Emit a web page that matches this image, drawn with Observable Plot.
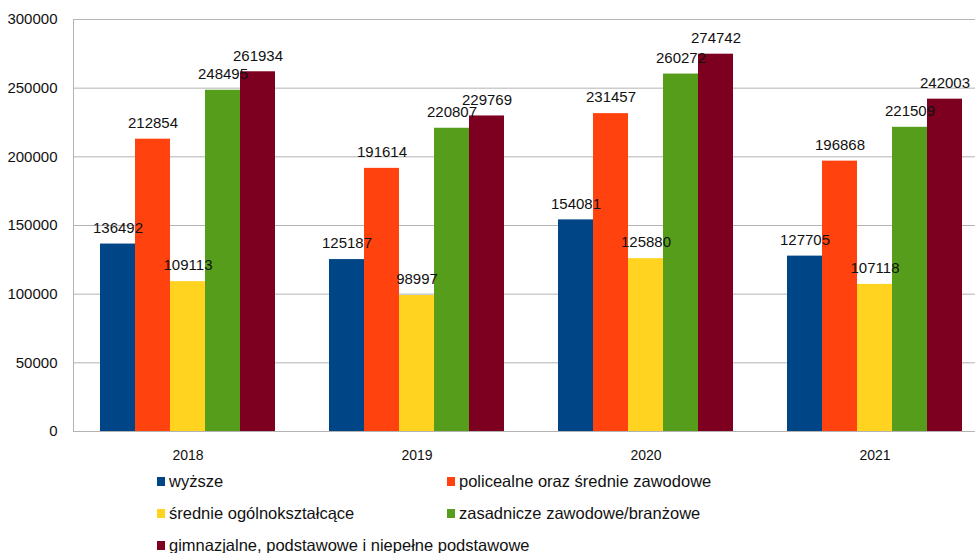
<!DOCTYPE html>
<html><head><meta charset="utf-8">
<script src="https://cdn.jsdelivr.net/npm/d3@7"></script>
<script src="https://cdn.jsdelivr.net/npm/@observablehq/plot@0.6"></script>
<style>
body{margin:0;background:#fff;font-family:"Liberation Sans",sans-serif;overflow:hidden;width:975px;}
#chart{width:975px;overflow:hidden;}
#legend{display:grid;grid-template-columns:290px auto;margin-left:157px;width:760px;}
.item{height:32px;display:flex;align-items:center;font-size:16.5px;color:#111;white-space:nowrap;line-height:1;}
.sw{width:8px;height:9px;margin-right:4px;flex:none;}
</style></head><body><div id="chart"></div><div id="legend"></div>
<script>
const years = ["2018", "2019", "2020", "2021"];
const series = ["wyższe", "policealne oraz średnie zawodowe", "średnie ogólnokształcące", "zasadnicze zawodowe/branżowe", "gimnazjalne, podstawowe i niepełne podstawowe"];
const colors = ["#004586", "#ff420e", "#ffd320", "#579d1c", "#7e0021"];
const wyzsze = [136492, 125187, 154081, 127705];
const policealne = [212854, 191614, 231457, 196868];
const ogolnoksztalcace = [109113, 98997, 125880, 107118];
const zasadnicze = [248495, 220807, 260272, 221509];
const gimnazjalne = [261934, 229769, 274742, 242003];
const yTicks = [0, 50000, 100000, 150000, 200000, 250000, 300000];

const seriesValues = [wyzsze, policealne, ogolnoksztalcace, zasadnicze, gimnazjalne];
const table = [];
years.forEach((y, i) => series.forEach((s, j) => table.push({year: y, series: s, value: seriesValues[j][i]})));

const chart = Plot.plot({
  width: 989, height: 465,
  marginTop: 19, marginBottom: 34, marginLeft: 73, marginRight: 0,
  style: {fontFamily: "'Liberation Sans', sans-serif", fontSize: "15px", color: "#111", background: "#fff", maxWidth: "none"},
  fx: {domain: years, padding: 0, label: null, axis: null},
  x: {domain: series, paddingInner: 0, paddingOuter: 0.753, axis: null},
  y: {domain: [0, 300000], label: null},
  color: {domain: series, range: colors},
  marks: [
    Plot.ruleY(yTicks, {stroke: "#b3b3b3", strokeWidth: 1}),
    Plot.frame({anchor: "left", facet: "super", stroke: "#b3b3b3"}),
    Plot.barY(table, {fx: "year", x: "series", y: "value", fill: "series"}),
    Plot.text(table, {fx: "year", x: "series", y: "value", text: d => String(d.value), dy: -16, fontSize: 15, fill: "#111"}),
    Plot.axisY(yTicks, {tickSize: 0, tickPadding: 16, tickFormat: d => String(d), label: null, fontSize: 15}),
    Plot.axisFx({anchor: "bottom", tickSize: 0, tickPadding: 19, label: null, fontSize: 14})
  ]
});
document.getElementById("chart").appendChild(chart);

const legend = document.getElementById("legend");
series.forEach((s, i) => {
  const item = document.createElement("div");
  item.className = "item";
  const sw = document.createElement("span");
  sw.className = "sw";
  sw.style.background = colors[i];
  item.appendChild(sw);
  item.appendChild(document.createTextNode(s));
  legend.appendChild(item);
});
</script>
</body></html>
